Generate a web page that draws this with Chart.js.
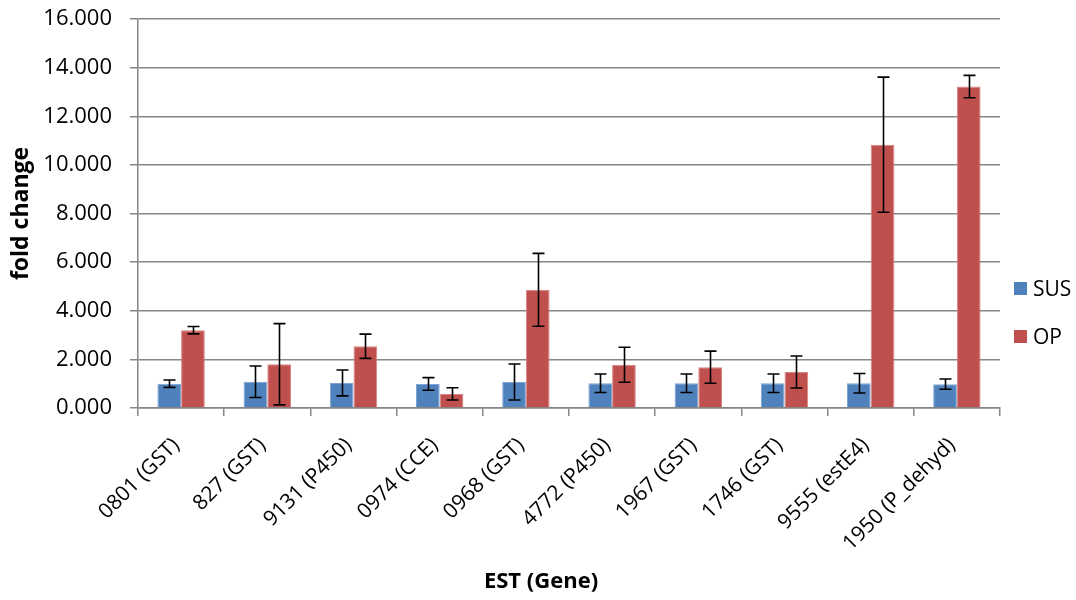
<!DOCTYPE html>
<html>
<head>
<meta charset="utf-8">
<script src="https://cdn.jsdelivr.net/npm/chart.js@4"></script>
<style>
  html, body { margin: 0; padding: 0; background: #fff; }
  #wrap { position: relative; width: 1076px; height: 600px; }
  #legend { position: absolute; left: 1014px; top: 275px; font-family: "Open Sans", sans-serif; font-size: 21px; color: #000; }
  #legend div { display: flex; align-items: center; height: 26px; margin-bottom: 22px; }
  #legend span.sw { display: inline-block; width: 13px; height: 13px; margin-right: 6px; }
  #xtitle { position: absolute; left: 441px; width: 200px; top: 564px; text-align: center; font-family: "Open Sans", sans-serif; font-weight: bold; font-size: 22px; color: #000; line-height: 30px; }
</style>
</head>
<body>
<div id="wrap">
  <canvas id="c" width="1076" height="600"></canvas>
  <div id="legend"></div>
  <div id="xtitle"></div>
</div>
<script>
const categories = ["0801 (GST)", "827 (GST)", "9131 (P450)", "0974 (CCE)", "0968 (GST)", "4772 (P450)", "1967 (GST)", "1746 (GST)", "9555 (estE4)", "1950 (P_dehyd)"];
const seriesNames = ["SUS", "OP"];
const susValues = [1.00, 1.08, 1.03, 0.99, 1.07, 1.02, 1.02, 1.02, 1.02, 0.98];
const susErrors = [0.15, 0.65, 0.53, 0.26, 0.74, 0.38, 0.38, 0.38, 0.40, 0.21];
const opValues = [3.20, 1.80, 2.54, 0.58, 4.86, 1.78, 1.68, 1.48, 10.83, 13.22];
const opErrors = [0.15, 1.67, 0.50, 0.25, 1.50, 0.72, 0.66, 0.66, 2.78, 0.46];
const yTicks = [0, 2, 4, 6, 8, 10, 12, 14, 16];
const colors = ["#4F81BD", "#C0504D"];
const xTitle = "EST (Gene)";
const yTitle = "fold change";

const FONT = "'Open Sans', sans-serif";

const errorBarPlugin = {
  id: 'errorBars',
  afterDatasetsDraw(chart) {
    const ctx = chart.ctx;
    const y = chart.scales.y;
    ctx.save();
    ctx.strokeStyle = '#000';
    ctx.lineWidth = 1.6;
    chart.data.datasets.forEach((ds, di) => {
      const meta = chart.getDatasetMeta(di);
      meta.data.forEach((bar, i) => {
        const v = ds.data[i], e = ds.errors[i];
        const x = Math.round(bar.x) + 0.5;
        const yt = y.getPixelForValue(v + e);
        const yb = y.getPixelForValue(Math.max(v - e, 0));
        const hw = 6;
        ctx.beginPath();
        ctx.moveTo(x, yt); ctx.lineTo(x, yb);
        ctx.moveTo(x - hw, yt); ctx.lineTo(x + hw, yt);
        ctx.moveTo(x - hw, yb); ctx.lineTo(x + hw, yb);
        ctx.stroke();
      });
    });
    ctx.restore();
  }
};

const chart = new Chart(document.getElementById('c'), {
  type: 'bar',
  data: {
    labels: categories,
    datasets: [
      { label: seriesNames[0], data: susValues, errors: susErrors, backgroundColor: colors[0], borderColor: '#7DA3D3', borderWidth: 1, categoryPercentage: 0.55, barPercentage: 1.0 },
      { label: seriesNames[1], data: opValues, errors: opErrors, backgroundColor: colors[1], borderColor: '#D98482', borderWidth: 1, categoryPercentage: 0.55, barPercentage: 1.0 }
    ]
  },
  options: {
    responsive: false,
    animation: false,
    devicePixelRatio: 1,
    layout: { padding: { left: 0, right: 76, top: 19, bottom: 6 } },
    plugins: { legend: { display: false }, tooltip: { enabled: false } },
    scales: {
      x: {
        offset: true,
        grid: { offset: true, drawOnChartArea: false, drawTicks: true, tickLength: 8, color: '#868686', lineWidth: 1.5 },
        border: { display: true, color: '#868686', width: 1.5 },
        ticks: { font: { family: FONT, size: 21 }, color: '#000', minRotation: 45, maxRotation: 45, autoSkip: false, padding: 17, labelOffset: -5 },
        title: { display: false },
        afterFit(s) { s.height = 600 - 408 - 6; s.paddingLeft = 0; s.paddingRight = 0; }
      },
      y: {
        min: 0, max: 16,
        afterBuildTicks(s) { s.ticks = yTicks.map(v => ({ value: v })); },
        grid: { color: '#868686', lineWidth: 1.5, tickLength: 8 },
        border: { display: true, color: '#868686', width: 1.5 },
        ticks: { font: { family: FONT, size: 22 }, color: '#000', padding: 18, callback: v => v.toFixed(3) },
        title: { display: true, text: yTitle, font: { family: FONT, size: 23, weight: 'bold' }, color: '#000', padding: { top: 8, bottom: 4 } },
        afterFit(s) { s.width = 138; s.paddingTop = 0; s.paddingBottom = 0; }
      }
    }
  },
  plugins: [errorBarPlugin]
});

document.getElementById('xtitle').textContent = xTitle;
const lg = document.getElementById('legend');
seriesNames.forEach((n, i) => {
  const d = document.createElement('div');
  const sw = document.createElement('span');
  sw.className = 'sw';
  sw.style.background = colors[i];
  d.appendChild(sw);
  d.appendChild(document.createTextNode(n));
  lg.appendChild(d);
});
</script>
</body>
</html>
